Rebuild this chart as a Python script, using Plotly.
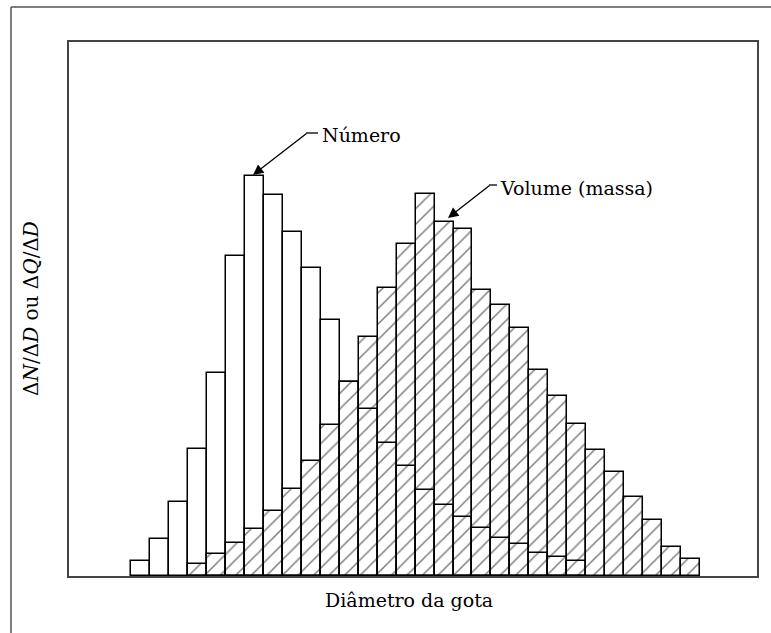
import plotly.graph_objects as go

# Classes of droplet diameter (bin index)
bins = list(range(30))
# ΔN/ΔD  (number distribution), bins 0..23
numero = [15, 37, 74, 127, 203, 320, 400, 381, 344, 308,
          256, 194, 167, 133, 110, 86, 71, 59, 48, 38,
          32, 23, 19, 15]
# ΔQ/ΔD  (volume / mass distribution), bins 3..29
volume = [12, 22, 33, 47, 65, 87, 115, 151, 194,
          239, 288, 332, 382, 354, 347, 286, 271, 248,
          206, 180, 152, 126, 104, 79, 56, 29, 17]

x_num = bins[:len(numero)]
x_vol = bins[3:3 + len(volume)]

FONT = "DejaVu Serif"

fig = go.Figure()
fig.add_trace(go.Bar(
    x=x_vol, y=volume, width=1,
    marker=dict(color="white",
                line=dict(color="black", width=1.5),
                pattern=dict(shape="/", fgcolor="#000", bgcolor="white",
                             size=11, solidity=0.14)),
    showlegend=False, hoverinfo="skip"))
fig.add_trace(go.Bar(
    x=x_num, y=numero, width=1,
    marker=dict(color="rgba(0,0,0,0)",
                line=dict(color="black", width=1.5)),
    showlegend=False, hoverinfo="skip"))

# pixel helpers for annotation placement (plot area: x 69..757, y 42..576)
X0, X1 = -3.77, 32.5
def px_to_x(p):
    return X0 + (p - 69) / 688 * (X1 - X0)
def py_to_y(p):
    return 576 - p

annotations = []
shapes = []
# "Número" arrow
annotations.append(dict(x=x_num[6] - 0.07, y=numero[6] + 1, xref="x", yref="y",
                        ax=px_to_x(307), ay=py_to_y(133), axref="x", ayref="y",
                        text="", showarrow=True, arrowhead=2, arrowsize=1.6,
                        arrowwidth=1.3, arrowcolor="black", standoff=0,
                        font=dict(size=1), borderpad=0))
shapes.append(dict(type="line", xref="x", yref="y",
                   x0=px_to_x(306), x1=px_to_x(318), y0=py_to_y(133), y1=py_to_y(133),
                   line=dict(color="black", width=1.3)))
annotations.append(dict(x=px_to_x(320), y=py_to_y(135), xref="x", yref="y",
                        text="Número", showarrow=False, xanchor="left", yanchor="middle",
                        font=dict(family=FONT, size=19, color="black")))
# "Volume (massa)" arrow
annotations.append(dict(x=px_to_x(448), y=py_to_y(218), xref="x", yref="y",
                        ax=px_to_x(490), ay=py_to_y(185), axref="x", ayref="y",
                        text="", showarrow=True, arrowhead=2, arrowsize=1.6,
                        arrowwidth=1.3, arrowcolor="black", standoff=0,
                        font=dict(size=1), borderpad=0))
shapes.append(dict(type="line", xref="x", yref="y",
                   x0=px_to_x(489), x1=px_to_x(497), y0=py_to_y(185), y1=py_to_y(185),
                   line=dict(color="black", width=1.3)))
annotations.append(dict(x=px_to_x(498), y=py_to_y(188), xref="x", yref="y",
                        text="Volume (massa)", showarrow=False, xanchor="left", yanchor="middle",
                        font=dict(family=FONT, size=19, color="black")))
# axis titles
annotations.append(dict(x=(409 - 69) / 688, y=(576 - 600) / 534, xref="paper", yref="paper",
                        text="Diâmetro da gota", showarrow=False,
                        xanchor="center", yanchor="middle",
                        font=dict(family=FONT, size=19, color="black")))
annotations.append(dict(x=(31 - 69) / 688, y=0.5, xref="paper", yref="paper",
                        text="Δ<i>N</i>/Δ<i>D</i> ou Δ<i>Q</i>/Δ<i>D</i>", showarrow=False,
                        textangle=-90, xanchor="center", yanchor="middle",
                        font=dict(family=FONT, size=20, color="black")))
# outer frame (top and left edges)
fx = (11 - 69) / 688
fy = (576 - 7) / 534
shapes.append(dict(type="line", xref="paper", yref="paper", x0=fx, x1=1.2, y0=fy, y1=fy,
                   line=dict(color="#555", width=1.5)))
shapes.append(dict(type="line", xref="paper", yref="paper", x0=fx, x1=fx, y0=-0.3, y1=fy,
                   line=dict(color="#555", width=1.5)))

fig.update_layout(
    width=771, height=633,
    margin=dict(l=69, r=14, t=42, b=57),
    paper_bgcolor="white", plot_bgcolor="white",
    barmode="overlay", bargap=0,
    annotations=annotations, shapes=shapes,
    xaxis=dict(range=[X0, X1], showgrid=False, zeroline=False, showticklabels=False,
               ticks="", showline=True, mirror=True, linecolor="#444", linewidth=2),
    yaxis=dict(range=[0, 534], showgrid=False, zeroline=False, showticklabels=False,
               ticks="", showline=True, mirror=True, linecolor="#444", linewidth=2),
)

fig.write_html("out.html")
